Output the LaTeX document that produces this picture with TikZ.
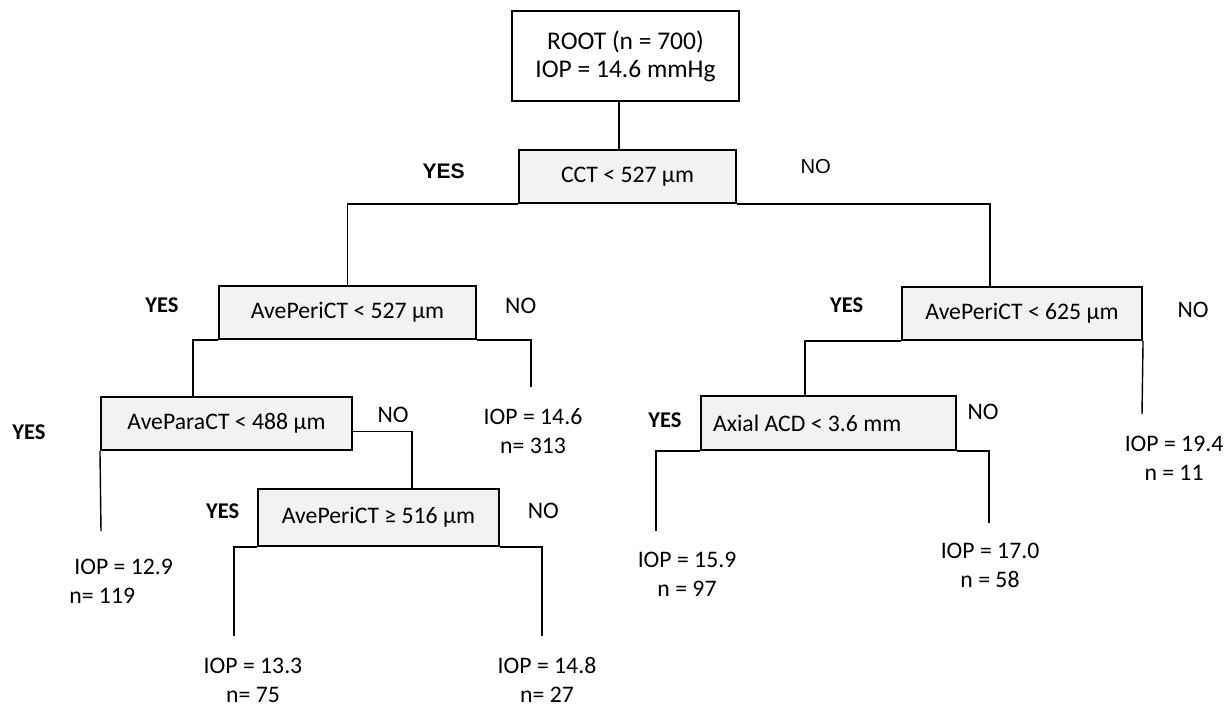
\documentclass[tikz,border=0pt]{standalone}
\usepackage{fontspec}
\setmainfont{Carlito}
\newfontfamily\arialfont{Liberation Sans}

\begin{document}
\begin{tikzpicture}[
    x = 0.02cm, y = -0.02cm,
    splitbox/.style = {draw, line width=1.2pt, fill=gray!10, inner sep=0pt, font=\fontsize{13.5}{16}\selectfont},
    rootbox/.style = {draw, line width=1.2pt, inner sep=0pt, align=center, font=\fontsize{14.5}{16}\selectfont},
    branch/.style = {line width=0.8pt},
    yeslabel/.style = {inner sep=0pt, font=\fontsize{12.8}{14}\selectfont\bfseries},
    nolabel/.style = {inner sep=0pt, font=\fontsize{13.5}{16}\selectfont},
    leaf/.style = {inner sep=0pt, align=center, font=\fontsize{13.5}{16.5}\selectfont}
]

\useasboundingbox (0, 0) rectangle (1229, 706);

\node[rootbox, minimum width=4.54cm, minimum height=1.8cm] (root) at (625.5, 56) {ROOT (n = 700)\\IOP = 14.6 mmHg};
\node[splitbox, minimum width=4.34cm, minimum height=1.06cm] (cct) at (627.5, 176.5) {CCT < 527 µm};
\node[splitbox, minimum width=5.14cm, minimum height=1.06cm] (peri527) at (347.5, 312.5) {AvePeriCT < 527 µm};
\node[splitbox, minimum width=4.8cm, minimum height=1.06cm] (peri625) at (1022, 313.5) {AvePeriCT < 625 µm};
\node[splitbox, minimum width=5.02cm, minimum height=1.06cm] (para488) at (226.5, 423.5) {AveParaCT < 488 µm};
\node[splitbox, minimum width=4.82cm, minimum height=1.14cm] (peri516) at (378.5, 517.5) {AvePeriCT ≥ 516 µm};
\node[splitbox, minimum width=5.1cm, minimum height=1.08cm] (axial) at (828.5, 423) {\makebox[5.1cm][l]{\hspace{0.24cm}Axial ACD < 3.6 mm}};

\coordinate (kcct) at (619, 150);
\coordinate (k625) at (990, 287);
\coordinate (k488) at (193, 397);
\coordinate (k516) at (412, 489);
\coordinate (kaxial) at (805, 396);

\coordinate (e146) at (531, 387);
\coordinate (e129) at (101, 531);
\coordinate (e133) at (234, 636);
\coordinate (e148) at (542, 636);
\coordinate (e194) at (1142, 414);
\coordinate (e159) at (656, 531);
\coordinate (e170) at (989, 523);

\draw[branch] (root.south -| kcct) -- (kcct);
\draw[branch] (cct.south west) -| (peri527.north);
\draw[branch] (cct.south east) -| (k625);
\draw[branch] (peri527.south west) -| (k488);
\draw[branch] (peri527.south east) -| (e146);
\draw[branch] (para488.south west) -- (e129);
\draw[branch] ([yshift=-0.16cm]para488.east) -| (k516);
\draw[branch] (peri516.south west) -| (e133);
\draw[branch] (peri516.south east) -| (e148);
\draw[branch] (peri625.south west) -| (kaxial);
\draw[branch] (peri625.south east) -- (e194);
\draw[branch] (axial.south west) -| (e159);
\draw[branch] (axial.south east) -| (e170);

\node[yeslabel, font=\fontsize{12}{14}\selectfont\bfseries\arialfont] (yescct) at (443.7, 171) {YES};
\node[nolabel, font=\fontsize{11.5}{14}\selectfont\arialfont] (nocct) at (815.7, 166.7) {NO};
\node[yeslabel] (yes527) at (162, 305) {YES};
\node[nolabel] (no527) at (520.7, 306) {NO};
\node[yeslabel] (yes625) at (846.7, 305) {YES};
\node[nolabel] (no625) at (1193, 310) {NO};
\node[yeslabel] (yes488) at (29, 431.7) {YES};
\node[nolabel] (no488) at (393, 415) {NO};
\node[yeslabel] (yes516) at (222.7, 511) {YES};
\node[nolabel] (no516) at (543.3, 511) {NO};
\node[yeslabel] (yesaxial) at (665, 420) {YES};
\node[nolabel] (noaxial) at (983, 411.7) {NO};

\node[leaf] (leaf146) at (533, 431) {IOP = 14.6\\n= 313};
\node[leaf, align=left, anchor=west] (leaf129) at (69, 581) {\hspace{0.1cm}IOP = 12.9\\n= 119};
\node[leaf] (leaf133) at (253, 680) {IOP = 13.3\\n= 75};
\node[leaf] (leaf148) at (547, 680) {IOP = 14.8\\n= 27};
\node[leaf] (leaf159) at (687, 574) {IOP = 15.9\\n = 97};
\node[leaf] (leaf170) at (990, 565.5) {IOP = 17.0\\n = 58};
\node[leaf] (leaf194) at (1174, 458) {IOP = 19.4\\n = 11};

\end{tikzpicture}
\end{document}
